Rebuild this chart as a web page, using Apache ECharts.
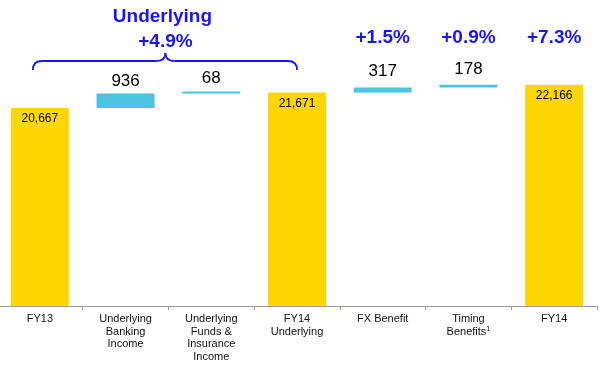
<!DOCTYPE html>
<html>
<head>
<meta charset="utf-8">
<script src="https://cdn.jsdelivr.net/npm/echarts@6/dist/echarts.min.js"></script>
<style>html,body{margin:0;padding:0;background:#fff;overflow:hidden}#c{width:600px;height:367px}</style>
</head>
<body>
<div id="c"></div>
<script>
const categories = ['FY13', 'Underlying\nBanking\nIncome', 'Underlying\nFunds &\nInsurance\nIncome', 'FY14\nUnderlying', 'FX Benefit', 'Timing\nBenefits{sup|1}', 'FY14'];
const totals = [20667, null, null, 21671, null, null, 22166];
const deltas = [null, 936, 68, null, 317, 178, null];
const pctLabels = ['', '', '', '', '+1.5%', '+0.9%', '+7.3%'];
const groupTitle = 'Underlying';
const groupPct = '+4.9%';

const YELLOW = '#FFD700', CYAN = '#4CC3E0', BLUE = '#1A14F5';
const FONT = '"Liberation Sans", Arial, sans-serif';

// running bases for floating bars
const bases = [];
let running = 0;
for (let i = 0; i < categories.length; i++) {
  if (totals[i] != null) { running = totals[i]; bases.push(null); }
  else { bases.push(running); running += deltas[i]; }
}
const fmt = v => v.toLocaleString('en-US');
const deltaGap = [0, 4, 5, 0, 8, 7, 0];

const chart = echarts.init(document.getElementById('c'));
chart.setOption({
  animation: false,
  grid: { left: -3, right: 3, top: 40.4, bottom: 61, containLabel: false, outerBoundsMode: 'none' },
  xAxis: {
    type: 'category', data: categories,
    axisLine: { lineStyle: { color: '#9a9a9a', width: 1 } },
    axisTick: { show: true, length: 4, lineStyle: { color: '#9a9a9a' } },
    axisLabel: {
      interval: 0, margin: 7, color: '#111', fontFamily: FONT, fontSize: 11, lineHeight: 12.5,
      rich: { sup: { fontSize: 7, fontFamily: FONT, color: '#111', verticalAlign: 'top', lineHeight: 12.5 } }
    }
  },
  yAxis: { type: 'value', min: 8000, max: 25000, show: false, splitLine: { show: false } },
  series: [
    { type: 'bar', stack: 'w', barWidth: 58, silent: true, itemStyle: { color: 'transparent' },
      data: bases.map(v => v == null ? '-' : v) },
    { type: 'bar', stack: 'w', barWidth: 58, itemStyle: { color: YELLOW },
      data: totals.map(v => v == null ? '-' : v),
      label: { show: true, position: 'insideTop', distance: 5, color: '#000', fontFamily: FONT, fontSize: 12,
        formatter: p => fmt(p.value) } },
    { type: 'bar', stack: 'w', barWidth: 58, barMinHeight: 2, itemStyle: { color: CYAN },
      data: deltas.map((v, i) => v == null ? '-' : { value: v, label: { distance: deltaGap[i] } }),
      label: { show: true, position: 'top', color: '#000', fontFamily: FONT, fontSize: 17,
        formatter: p => fmt(p.value) } }
  ]
});

const xs = categories.map((c, i) => chart.convertToPixel({ xAxisIndex: 0 }, i));
const graphics = [];
pctLabels.forEach((t, i) => {
  if (!t) return;
  graphics.push({ type: 'text', x: xs[i], y: 38,
    style: { text: t, fill: BLUE, font: 'bold 19px ' + FONT, textAlign: 'center', textVerticalAlign: 'middle' } });
});
const gx = (xs[1] + xs[2]) / 2;
graphics.push({ type: 'text', x: gx - 6, y: 17,
  style: { text: groupTitle, fill: BLUE, font: 'bold 19px ' + FONT, textAlign: 'center', textVerticalAlign: 'middle' } });
graphics.push({ type: 'text', x: gx - 3, y: 41.5,
  style: { text: groupPct, fill: BLUE, font: 'bold 19px ' + FONT, textAlign: 'center', textVerticalAlign: 'middle' } });
const L = xs[0] - 7, R = xs[3], M = gx - 3;
const braceStyle = { stroke: BLUE, lineWidth: 1.8, fill: null };
graphics.push(
  { type: 'bezierCurve', shape: { x1: L, y1: 70, x2: L + 9, y2: 61, cpx1: L, cpy1: 61 }, style: braceStyle },
  { type: 'line', shape: { x1: L + 9, y1: 61, x2: M - 9, y2: 61 }, style: braceStyle },
  { type: 'bezierCurve', shape: { x1: M - 9, y1: 61, x2: M, y2: 53, cpx1: M, cpy1: 61 }, style: braceStyle },
  { type: 'bezierCurve', shape: { x1: M, y1: 53, x2: M + 9, y2: 61, cpx1: M, cpy1: 61 }, style: braceStyle },
  { type: 'line', shape: { x1: M + 9, y1: 61, x2: R - 9, y2: 61 }, style: braceStyle },
  { type: 'bezierCurve', shape: { x1: R - 9, y1: 61, x2: R, y2: 70, cpx1: R, cpy1: 61 }, style: braceStyle }
);
chart.setOption({ graphic: graphics });
</script>
</body>
</html>
